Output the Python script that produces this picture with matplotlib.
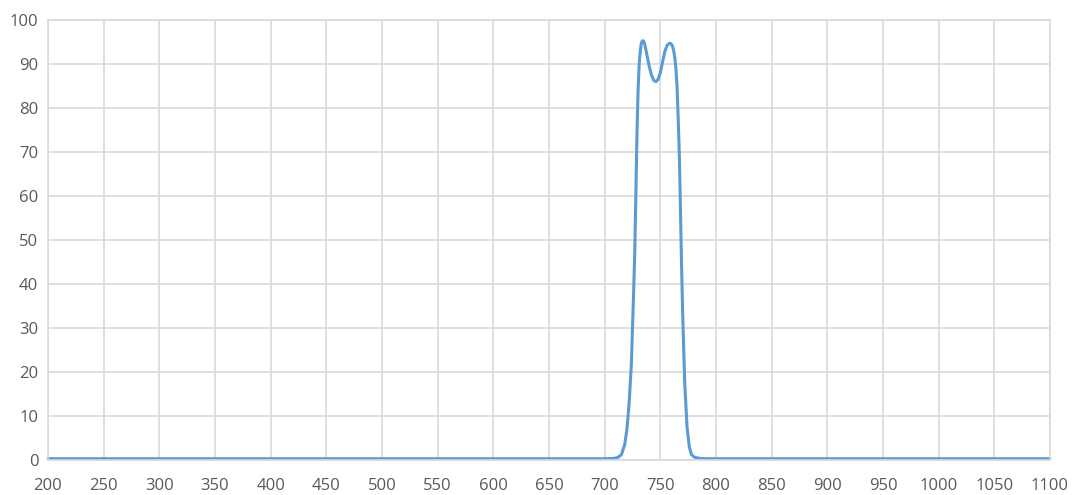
import matplotlib
matplotlib.use("Agg")
import matplotlib.pyplot as plt

wavelength = [200, 300, 400, 500, 600, 700, 708, 712, 715, 718, 720, 722, 724, 726, 727,
              728, 729, 730, 731, 732, 733, 734, 735, 736, 738, 740, 742, 744, 746, 748,
              750, 752, 754, 756, 758, 759, 760, 761, 762, 763, 764, 765, 766, 767, 768,
              769, 770, 771, 772, 774, 776, 778, 781, 785, 790, 800, 900, 1000, 1100]
transmission = [0.3, 0.3, 0.3, 0.3, 0.3, 0.3, 0.35, 0.6, 1.2, 3.5, 7, 13, 22, 38, 47,
                60, 74, 84, 90, 93, 94.8, 95.3, 95.2, 94.5, 92, 89.5, 87.5, 86.3, 86, 86.5,
                88, 90.5, 92.8, 94.2, 94.7, 94.7, 94.5, 94, 93, 91.5, 89, 85, 78, 70, 58,
                45, 34, 25, 17, 7.5, 3, 1.2, 0.6, 0.4, 0.3, 0.3, 0.3, 0.3, 0.3]
x_ticks = list(range(200, 1101, 50))
y_ticks = list(range(0, 101, 10))

plt.rcParams['font.family'] = ['Open Sans', 'DejaVu Sans']

fig = plt.figure(figsize=(10.73, 4.95), dpi=100)
ax = fig.add_axes([48/1073, 35/495, (1050-48)/1073, (460-20)/495])

grid_c = '#D9D9D9'
ax.set_xlim(200, 1100)
ax.set_ylim(0, 100)
ax.set_xticks(x_ticks)
ax.set_yticks(y_ticks)
ax.grid(True, color=grid_c, linewidth=1.2)
ax.set_axisbelow(True)
for s in ax.spines.values():
    s.set_color(grid_c)
    s.set_linewidth(1.2)
ax.tick_params(length=0, labelsize=12, labelcolor='#595959')
ax.tick_params(axis='x', pad=13)
ax.tick_params(axis='y', pad=7)

ax.plot(wavelength, transmission, color='#5B9BD5', linewidth=2.2, solid_joinstyle='round',
        solid_capstyle='round', clip_on=False)

fig.savefig('out.png', dpi=100)
